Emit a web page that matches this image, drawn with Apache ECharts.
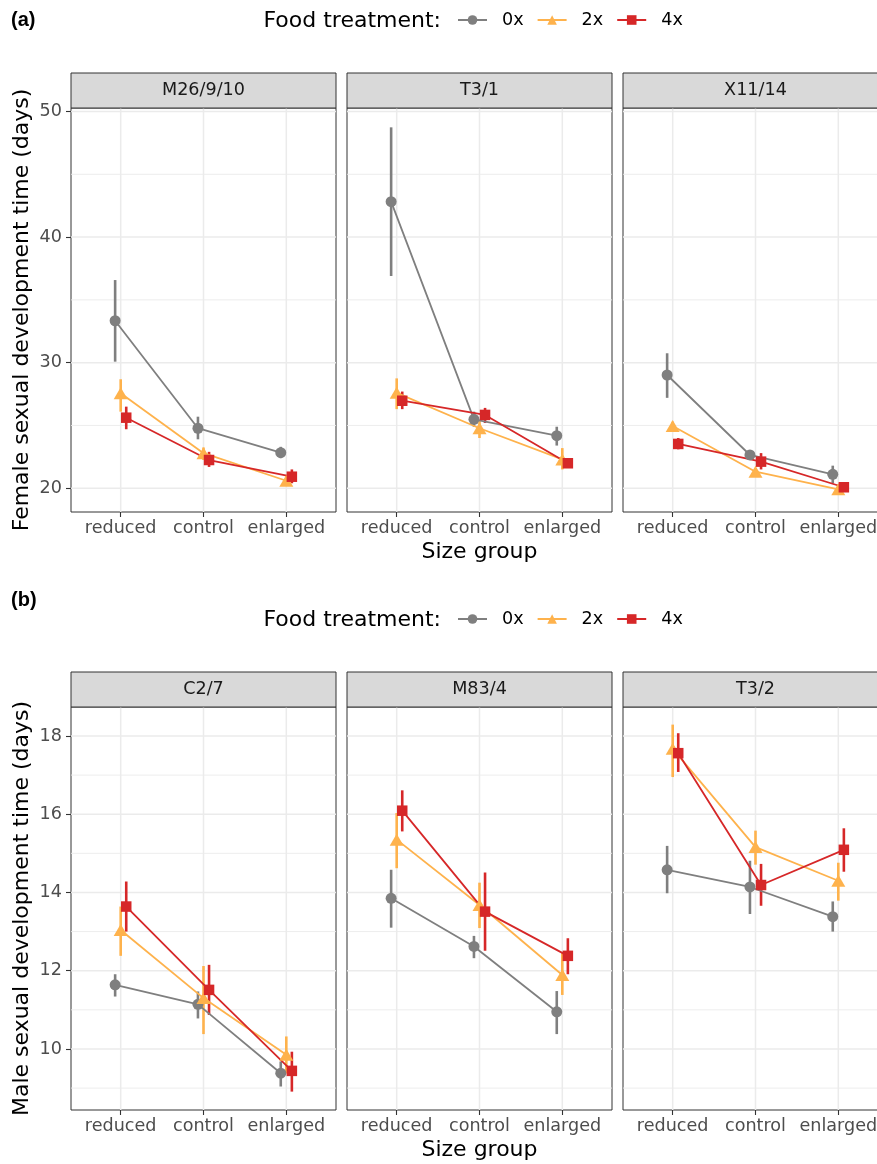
<!DOCTYPE html>
<html><head><meta charset="utf-8">
<script src="https://cdn.jsdelivr.net/npm/echarts@6/dist/echarts.min.js"></script>
<style>html,body{margin:0;padding:0;overflow:hidden;background:#fff}#c{width:890px;height:1164px}</style>
</head><body><div id="c"></div><script>
// ---------- data ----------
const categories = ['reduced', 'control', 'enlarged'];
const treatments = ['0x', '2x', '4x'];
const femalePanels = ['M26/9/10', 'T3/1', 'X11/14'];
const malePanels = ['C2/7', 'M83/4', 'T3/2'];
const femaleTicks = [20, 30, 40, 50];
const femaleMinorTicks = [25, 35, 45];
const maleTicks = [10, 12, 14, 16, 18];
const maleMinorTicks = [9, 11, 13, 15, 17];

// rows: treatments 0x, 2x, 4x ; columns: reduced, control, enlarged
const female_M26_mean = [[33.34, 24.78, 22.83], [27.56, 22.79, 20.60], [25.62, 22.25, 20.92]];
const female_M26_lo   = [[30.08, 23.90, 22.40], [26.10, 22.25, 20.20], [24.70, 21.70, 20.40]];
const female_M26_hi   = [[36.58, 25.70, 23.30], [28.68, 23.25, 21.00], [26.50, 22.90, 21.50]];

const female_T31_mean = [[42.82, 25.49, 24.19], [27.60, 24.78, 22.30], [26.97, 25.84, 21.99]];
const female_T31_lo   = [[36.90, 24.90, 23.40], [26.30, 24.00, 21.50], [26.30, 25.20, 21.70]];
const female_T31_hi   = [[48.74, 26.10, 24.90], [28.75, 25.40, 23.20], [27.70, 26.40, 22.30]];

const female_X1114_mean = [[29.02, 22.65, 21.11], [24.96, 21.32, 19.92], [23.53, 22.12, 20.08]];
const female_X1114_lo   = [[27.20, 22.30, 20.40], [24.60, 21.00, 19.70], [23.10, 21.50, 19.85]];
const female_X1114_hi   = [[30.75, 23.00, 21.80], [25.30, 21.60, 20.10], [24.00, 22.80, 20.30]];

const male_C27_mean = [[11.64, 11.14, 9.38], [13.04, 11.30, 9.85], [13.64, 11.51, 9.44]];
const male_C27_lo   = [[11.34, 10.78, 9.04], [12.38, 10.38, 9.38], [13.00, 10.87, 8.91]];
const male_C27_hi   = [[11.91, 11.47, 9.68], [13.64, 12.12, 10.32], [14.28, 12.15, 9.93]];

const male_M834_mean = [[13.85, 12.62, 10.95], [15.35, 13.68, 11.89], [16.09, 13.51, 12.38]];
const male_M834_lo   = [[13.10, 12.32, 10.38], [14.62, 13.09, 11.38], [15.56, 12.51, 11.91]];
const male_M834_hi   = [[14.58, 12.89, 11.48], [16.03, 14.25, 12.45], [16.61, 14.51, 12.83]];

const male_T32_mean = [[14.58, 14.14, 13.38], [17.67, 15.16, 14.30], [17.56, 14.19, 15.09]];
const male_T32_lo   = [[13.98, 13.45, 13.00], [16.95, 14.71, 13.79], [17.08, 13.66, 14.53]];
const male_T32_hi   = [[15.19, 14.81, 13.77], [18.29, 15.58, 14.76], [18.07, 14.73, 15.64]];

// ---------- styling / layout ----------
const colors = ['#7f7f7f', '#feb24c', '#d62728'];
const symbols = ['circle', 'triangle', 'rect'];
const symbolSizes = [11, [14, 12], 10.5];
const dodge = [-0.067, 0, 0.067];
const FONT = 'DejaVu Sans';
const gridLefts = [71, 347, 623];
const gridW = 265;

const rowDefs = [
  { top: 108, h: 404, min: 18.11, max: 50.28, ticks: femaleTicks, minor: femaleMinorTicks, titles: femalePanels,
    data: [[female_M26_mean, female_M26_lo, female_M26_hi], [female_T31_mean, female_T31_lo, female_T31_hi], [female_X1114_mean, female_X1114_lo, female_X1114_hi]],
    ytitle: 'Female sexual development time (days)', tag: '(a)', tagY: 20, legendY: 21, xtitleY: 552 },
  { top: 707, h: 403, min: 8.44, max: 18.74, ticks: maleTicks, minor: maleMinorTicks, titles: malePanels,
    data: [[male_C27_mean, male_C27_lo, male_C27_hi], [male_M834_mean, male_M834_lo, male_M834_hi], [male_T32_mean, male_T32_lo, male_T32_hi]],
    ytitle: 'Male sexual development time (days)', tag: '(b)', tagY: 600, legendY: 620, xtitleY: 1150 }
];

const grid = [], xAxis = [], yAxis = [], series = [], graphic = [], legend = [];
let gi = 0;
rowDefs.forEach((row) => {
  for (let p = 0; p < 3; p++) {
    grid.push({ left: gridLefts[p], top: row.top, width: gridW, height: row.h, show: true,
      borderColor: '#333333', borderWidth: 1, backgroundColor: '#ffffff', containLabel: false });
    xAxis.push({ type: 'value', gridIndex: gi, min: 0.4, max: 3.6,
      axisLine: { show: false }, splitLine: { show: false },
      axisTick: { show: true, customValues: [1, 2, 3], length: 5, lineStyle: { color: '#333333', width: 1.1 } },
      axisLabel: { show: true, customValues: [1, 2, 3], margin: 7, color: '#4d4d4d', fontSize: 17.6, fontFamily: FONT,
        formatter: (v) => categories[Math.round(v) - 1] } });
    yAxis.push({ type: 'value', gridIndex: gi, min: row.min, max: row.max,
      axisLine: { show: false }, splitLine: { show: false },
      axisTick: { show: p === 0, customValues: row.ticks, length: 5, lineStyle: { color: '#333333', width: 1.1 } },
      axisLabel: { show: p === 0, customValues: row.ticks, margin: 9, color: '#4d4d4d', fontSize: 17.6, fontFamily: FONT } });

    // gridlines
    const gl = [];
    row.ticks.forEach(v => gl.push([v, 0, 1]));
    row.minor.forEach(v => gl.push([v, 0, 0]));
    [1, 2, 3].forEach(v => gl.push([v, 1, 1]));
    series.push({ type: 'custom', xAxisIndex: gi, yAxisIndex: gi, z: 0, silent: true, data: gl,
      encode: { x: -1, y: -1 },
      renderItem: (params, api) => {
        const cs = params.coordSys;
        const v = api.value(0), o = api.value(1), major = api.value(2);
        let shape;
        if (o === 0) {
          const y = api.coord([2, v])[1];
          shape = { x1: cs.x, y1: y, x2: cs.x + cs.width, y2: y };
        } else {
          const x = api.coord([v, (row.min + row.max) / 2])[0];
          shape = { x1: x, y1: cs.y, x2: x, y2: cs.y + cs.height };
        }
        return { type: 'line', shape, style: { stroke: '#ebebeb', lineWidth: major ? 1.5 : 0.9 } };
      } });

    const [mean, lo, hi] = row.data[p];
    treatments.forEach((t, ti) => {
      series.push({ type: 'line', name: t, xAxisIndex: gi, yAxisIndex: gi, z: 3,
        data: categories.map((c, i) => [i + 1 + dodge[ti], mean[ti][i]]),
        symbol: symbols[ti], symbolSize: symbolSizes[ti], showSymbol: true,
        itemStyle: { color: colors[ti] }, lineStyle: { color: colors[ti], width: 1.8 }, emphasis: { disabled: true } });
      series.push({ type: 'custom', name: t + ' error', xAxisIndex: gi, yAxisIndex: gi, z: 2, silent: true,
        data: categories.map((c, i) => [i + 1 + dodge[ti], lo[ti][i], hi[ti][i]]),
        encode: { x: 0, y: [1, 2] },
        renderItem: (params, api) => {
          const a = api.coord([api.value(0), api.value(1)]);
          const b = api.coord([api.value(0), api.value(2)]);
          return { type: 'line', shape: { x1: a[0], y1: a[1], x2: b[0], y2: b[1] },
            style: { stroke: colors[ti], lineWidth: 2.6 } };
        } });
    });

    // strip
    graphic.push({ type: 'rect', shape: { x: gridLefts[p], y: row.top - 35, width: gridW, height: 35 },
      style: { fill: '#d9d9d9', stroke: '#333333', lineWidth: 1 }, z: 10 });
    graphic.push({ type: 'text', x: gridLefts[p] + gridW / 2, y: row.top - 17.5, z: 11,
      style: { text: row.titles[p], fill: '#1a1a1a', font: '17.6px "DejaVu Sans"', align: 'center', verticalAlign: 'middle' } });
    gi++;
  }
  // axis titles, tag, legend title
  graphic.push({ type: 'text', x: 22, y: row.top + row.h / 2, rotation: Math.PI / 2, z: 11,
    style: { text: row.ytitle, fill: '#000', font: '22px "DejaVu Sans"', align: 'center', verticalAlign: 'middle' } });
  graphic.push({ type: 'text', x: 479.5, y: row.xtitleY, z: 11,
    style: { text: 'Size group', fill: '#000', font: '22px "DejaVu Sans"', align: 'center', verticalAlign: 'middle' } });
  graphic.push({ type: 'text', x: 11, y: row.tagY, z: 11,
    style: { text: row.tag, fill: '#000', font: 'bold 20px "Liberation Sans Narrow", "Liberation Sans"', align: 'left', verticalAlign: 'middle' } });
  graphic.push({ type: 'text', x: 441, y: row.legendY, z: 11,
    style: { text: 'Food treatment:', fill: '#000', font: '22px "DejaVu Sans"', align: 'right', verticalAlign: 'middle' } });
  legend.push({ data: treatments, left: 457, top: row.legendY - 10, padding: 0, itemWidth: 29, itemHeight: 12, itemGap: 13,
    selectedMode: false, textStyle: { fontSize: 17.6, fontFamily: FONT, color: '#000', padding: [0, 0, 0, 10] } });
});

const chart = echarts.init(document.getElementById('c'), null, { renderer: 'canvas' });
chart.setOption({ animation: false, backgroundColor: '#ffffff', grid, xAxis, yAxis, series, graphic, legend,
  textStyle: { fontFamily: FONT } });
</script></body></html>
